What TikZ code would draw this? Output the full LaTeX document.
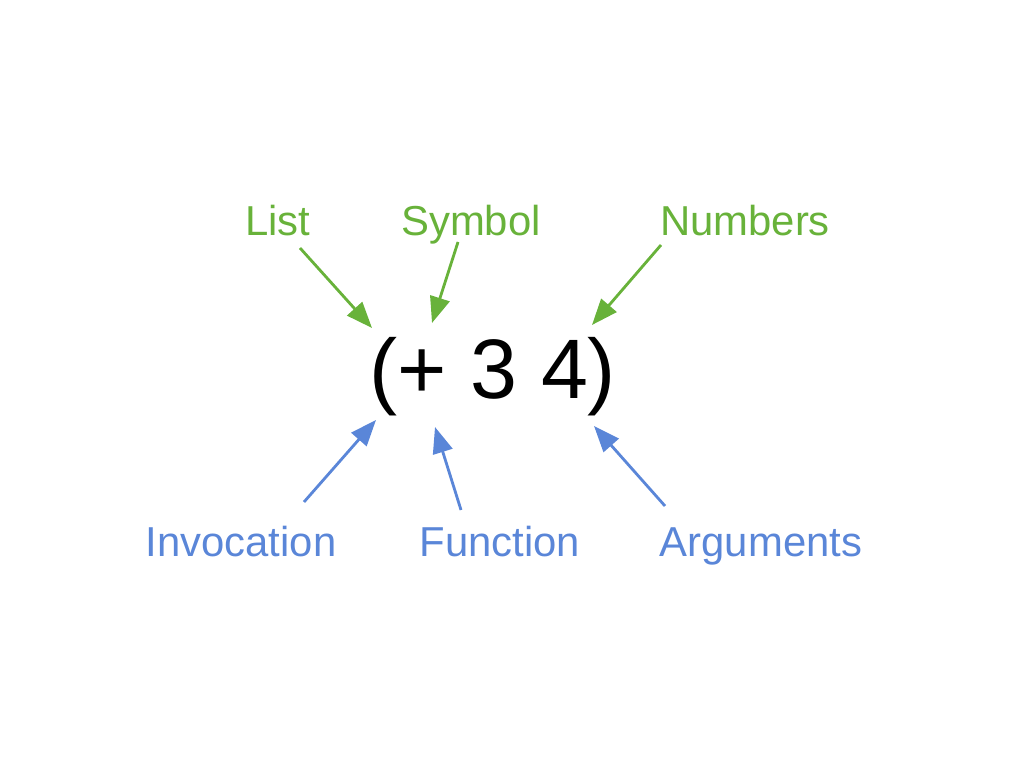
\documentclass[tikz,border=0pt]{standalone}
\usepackage{fontspec}
\setmainfont{Liberation Sans}
\usepackage{xcolor}
\usepackage{tikz}
\usetikzlibrary{arrows.meta, positioning, calc}

\definecolor{lispgreen}{RGB}{104,178,58}
\definecolor{lispblue}{RGB}{90,134,216}

\tikzset{
  label/.style={anchor=base, inner sep=0pt, font=\fontsize{11.9}{14}\selectfont},
  glabel/.style={label, text=lispgreen},
  blabel/.style={label, text=lispblue},
  garrow/.style={draw=lispgreen, line width=0.8pt, -{Triangle[length=0.26cm, width=0.2cm]}, fill=lispgreen},
  barrow/.style={draw=lispblue, line width=0.8pt, -{Triangle[length=0.26cm, width=0.2cm]}, fill=lispblue}
}

\begin{document}
\begin{tikzpicture}[x=0.01cm, y=-0.01cm]

\useasboundingbox (0,0) rectangle (1024,768);

% Expression
\node[anchor=base, inner sep=0pt, font=\fontsize{24}{28}\selectfont] (expr) at (493,399) {(+ 3 4)};

% Labels above
\node[glabel] (list) at (278,236) {List};
\node[glabel] (symbol) at (471,236) {Symbol};
\node[glabel] (numbers) at (745,236) {Numbers};

% Labels below
\node[blabel] (invocation) at (241,557) {Invocation};
\node[blabel] (function) at (500,557) {Function};
\node[blabel] (arguments) at (761,557) {Arguments};

% Arrow targets
\coordinate (listtip) at (372,328);
\coordinate (symboltip) at (432,323);
\coordinate (numberstip) at (592,325);
\coordinate (invocationtip) at (376,420);
\coordinate (functiontip) at (435,427);
\coordinate (argumentstip) at (594,426);

% Arrows from top
\draw[garrow] ($(list.base)+(22,12)$) -- (listtip);
\draw[garrow] ($(symbol.base)+(-13,6)$) -- (symboltip);
\draw[garrow] ($(numbers.base)+(-84,9)$) -- (numberstip);

% Arrows from bottom
\draw[barrow] ($(invocation.base)+(63,-55)$) -- (invocationtip);
\draw[barrow] ($(function.base)+(-39,-47)$) -- (functiontip);
\draw[barrow] ($(arguments.base)+(-96,-51)$) -- (argumentstip);

\end{tikzpicture}
\end{document}
